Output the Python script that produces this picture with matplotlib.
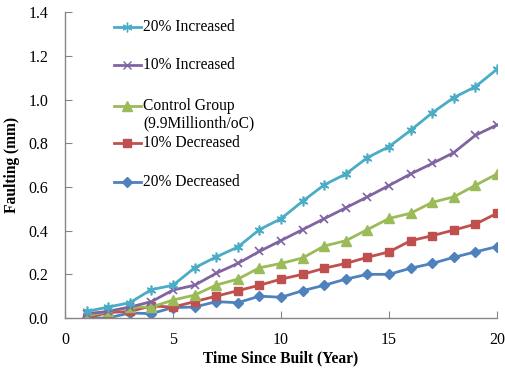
import matplotlib
matplotlib.use("Agg")
import matplotlib.pyplot as plt
from matplotlib.lines import Line2D

plt.rcParams['font.family'] = ['Liberation Serif', 'DejaVu Serif']

years = list(range(1, 21))

inc20 = [0.03, 0.05, 0.07, 0.13, 0.15, 0.23, 0.28, 0.325, 0.405, 0.455, 0.535, 0.61, 0.66,
         0.735, 0.785, 0.86, 0.94, 1.01, 1.06, 1.14]
inc10 = [0.02, 0.03, 0.05, 0.075, 0.128, 0.15, 0.205, 0.25, 0.305, 0.355, 0.405, 0.455, 0.505,
         0.555, 0.607, 0.66, 0.708, 0.758, 0.837, 0.885]
control = [0.01, 0.03, 0.05, 0.05, 0.082, 0.105, 0.151, 0.178, 0.23, 0.25, 0.275, 0.33, 0.354,
           0.405, 0.456, 0.48, 0.53, 0.555, 0.608, 0.66]
dec10 = [0.0, 0.025, 0.03, 0.055, 0.05, 0.075, 0.10, 0.125, 0.15, 0.178, 0.20, 0.228, 0.25,
         0.278, 0.303, 0.354, 0.377, 0.403, 0.43, 0.48]
dec20 = [0.0, 0.0, 0.023, 0.02, 0.048, 0.05, 0.075, 0.07, 0.10, 0.095, 0.125, 0.15, 0.178,
         0.20, 0.20, 0.228, 0.25, 0.278, 0.303, 0.327]

labels = ["20% Increased", "10% Increased", "Control Group\n(9.9Millionth/oC)",
          "10% Decreased", "20% Decreased"]
colors = ["#4BACC6", "#8064A2", "#9BBB59", "#C0504D", "#4F81BD"]
markers = [(6, 2, 0), "x", "^", "s", "D"]
msizes = [7, 6, 6.5, 6, 5.5]
series = [inc20, inc10, control, dec10, dec20]

fig = plt.figure(figsize=(5.06, 3.73), dpi=100)
ax = fig.add_axes([0.1285, 0.1475, 0.8537, 0.819])

for vals, c, m, ms in zip(series[::-1], colors[::-1], markers[::-1], msizes[::-1]):
    ax.plot(years, vals, color=c, lw=2.0, marker=m, ms=ms, mew=1.2 if m in ("x", (6, 2, 0)) else 1,
            mfc=c, mec=c, solid_joinstyle='round')

ax.set_xlim(0, 20)
ax.set_ylim(0, 1.4)
ax.set_xticks([0, 5, 10, 15, 20])
ax.set_yticks([0.0, 0.2, 0.4, 0.6, 0.8, 1.0, 1.2, 1.4])
ax.set_yticklabels([f"{v:.1f}" for v in ax.get_yticks()])
for side in ("top", "right"):
    ax.spines[side].set_visible(False)
for side in ("left", "bottom"):
    ax.spines[side].set_color("#868686")
    ax.spines[side].set_linewidth(1.0)
ax.tick_params(direction="in", length=5, color="#868686", labelsize=11.5)
ax.tick_params(axis="x", pad=10)
ax.tick_params(axis="y", pad=12)

ax.set_xlabel("Time Since Built (Year)", fontsize=11.2, fontweight="bold", labelpad=2)
ax.set_ylabel("Faulting (mm)", fontsize=11.2, fontweight="bold", labelpad=6)

# legend drawn in axes fraction
leg_y = [0.9525, 0.828, 0.694, 0.573, 0.445]
second_line_y = 0.638
for lab, c, m, ms, yy in zip(labels, colors, markers, msizes, leg_y):
    ln = Line2D([0.113, 0.1445, 0.176], [yy, yy, yy], transform=ax.transAxes, color=c, lw=2.0,
                marker=m, ms=ms, markevery=[1], mfc=c, mec=c, clip_on=False)
    ax.add_line(ln)
    lines = lab.split("\n")
    ax.text(0.181, yy, lines[0], transform=ax.transAxes, fontsize=11.2, va="center")
    if len(lines) > 1:
        ax.text(0.181, second_line_y, lines[1], transform=ax.transAxes, fontsize=11.2, va="center")

fig.savefig("out.png", dpi=100)
